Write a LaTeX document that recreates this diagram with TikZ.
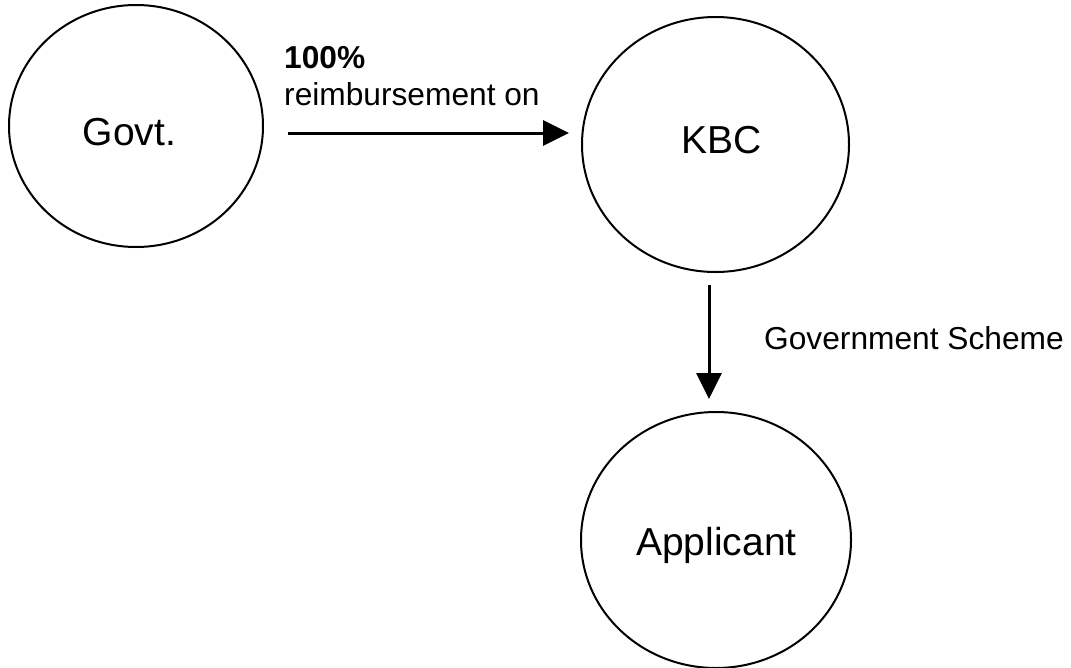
\documentclass[tikz,border=0pt]{standalone}
\usepackage{fontspec}
\setmainfont{Liberation Sans}
\usetikzlibrary{shapes.geometric,arrows.meta}
\tikzset{
  bubble/.style={draw=black, line width=2pt, ellipse, inner sep=0pt},
  bigtext/.style={font=\fontsize{39}{46}\selectfont, anchor=base, inner sep=0pt},
  smalltext/.style={font=\fontsize{31.7}{37}\selectfont, anchor=base west, inner sep=0pt},
  flow/.style={line width=3pt, -{Triangle[length=26pt,width=25pt]}}
}
\begin{document}
\begin{tikzpicture}[x=1pt,y=-1pt]
\useasboundingbox (0,0) rectangle (1071,667);
\fill[white] (0,0) rectangle (1071,667);
% ellipses
\node[bubble, minimum width=254pt, minimum height=242pt] (govt) at (136,126) {};
\node[bubble, minimum width=267pt, minimum height=255pt] (kbc) at (715.5,144.5) {};
\node[bubble, minimum width=270pt, minimum height=256pt] (app) at (716,540) {};
% labels
\node[bigtext] (govtl) at (129.5,145) {Govt.};
\node[bigtext] (kbcl) at (722,153) {KBC};
\node[bigtext] (appl) at (716.5,555) {Applicant};
\node[smalltext] (pct) at (284,68) {\bfseries 100\%};
\node[smalltext] (reimb) at (284,105) {reimbursement on};
\node[smalltext] (gs) at (764,349) {Government Scheme};
% connectors
\coordinate (a1s) at (288,133);
\coordinate (a1e) at (569,133);
\coordinate (a2s) at (709,285);
\coordinate (a2e) at (709,399);
\draw[flow] (a1s) -- (a1e);
\draw[flow] (a2s) -- (a2e);
\end{tikzpicture}
\end{document}
